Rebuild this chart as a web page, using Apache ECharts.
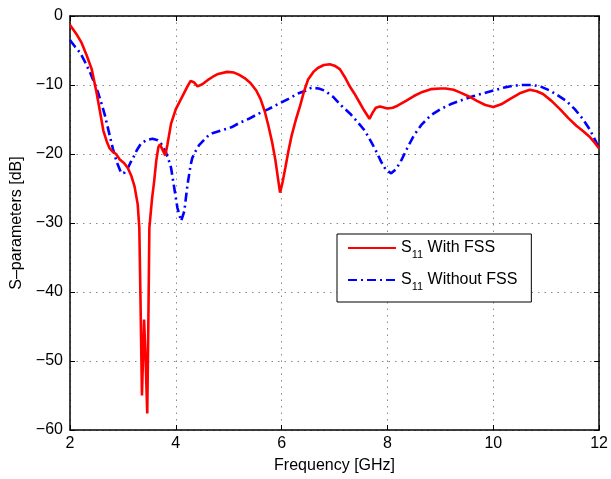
<!DOCTYPE html>
<html>
<head>
<meta charset="utf-8">
<script src="https://cdn.jsdelivr.net/npm/echarts@6/dist/echarts.min.js"></script>
<style>
html,body{margin:0;padding:0;background:#fff;}
#chart{width:611px;height:479px;}
</style>
</head>
<body>
<div id="chart"></div>
<script>
// ---- data ----
var seriesNames = ['S11 With FSS', 'S11 Without FSS'];
var xTicks = [2, 4, 6, 8, 10, 12];
var yTicks = [-60, -50, -40, -30, -20, -10, 0];

var freqWith = [2.0,2.03,2.12,2.22,2.32,2.41,2.50,2.57,2.63,2.70,2.75,2.81,2.87,2.94,3.02,3.09,3.16,3.22,3.28,3.31,3.33,3.36,3.40,3.43,3.46,3.48,3.50,3.55,3.59,3.63,3.67,3.70,3.75,3.80,3.84,3.91,4.0,4.08,4.16,4.22,4.28,4.34,4.41,4.50,4.60,4.70,4.80,4.97,5.10,5.19,5.30,5.41,5.52,5.60,5.68,5.75,5.82,5.88,5.93,5.97,6.02,6.07,6.13,6.19,6.27,6.35,6.42,6.50,6.60,6.69,6.80,6.91,7.00,7.10,7.19,7.28,7.38,7.47,7.56,7.66,7.72,7.78,7.86,8.0,8.10,8.19,8.35,8.50,8.66,8.82,9.0,9.10,9.25,9.38,9.55,9.69,9.85,10.0,10.15,10.32,10.50,10.69,10.82,10.94,11.10,11.26,11.42,11.57,11.70,11.82,11.92,12.0];
var s11With = [-1.3,-1.5,-2.6,-3.9,-5.8,-7.7,-11.0,-14.0,-16.6,-18.3,-19.2,-19.7,-20.0,-20.8,-21.3,-22.0,-23.2,-24.7,-27.3,-30.7,-40,-55,-44,-50,-57.6,-45,-30.7,-26.5,-24.0,-21.0,-19.0,-18.6,-19.4,-20.2,-18.7,-15.6,-13.5,-12.3,-11.1,-10.2,-9.4,-9.6,-10.2,-9.9,-9.3,-8.8,-8.4,-8.1,-8.2,-8.5,-9.0,-9.7,-10.8,-12.0,-13.8,-15.9,-18.3,-20.8,-23.5,-25.6,-24.0,-22.0,-19.5,-17.3,-15.0,-13.0,-11.0,-9.2,-8.1,-7.5,-7.1,-7.0,-7.2,-7.7,-8.8,-10.1,-11.3,-12.5,-13.7,-14.9,-14.0,-13.3,-13.1,-13.4,-13.3,-13.0,-12.3,-11.6,-11.0,-10.6,-10.5,-10.5,-10.7,-11.1,-11.7,-12.3,-12.9,-13.2,-12.8,-12.0,-11.2,-10.7,-10.9,-11.3,-12.3,-13.5,-14.8,-15.9,-16.7,-17.5,-18.4,-19.2];

var freqWithout = [2.0,2.03,2.10,2.19,2.28,2.38,2.46,2.53,2.60,2.66,2.75,2.81,2.88,2.97,3.03,3.09,3.14,3.19,3.26,3.34,3.44,3.56,3.66,3.73,3.81,3.87,3.91,3.97,4.03,4.10,4.16,4.22,4.28,4.31,4.38,4.44,4.59,4.69,4.85,5.06,5.20,5.38,5.55,5.75,5.95,6.13,6.32,6.50,6.56,6.70,6.81,6.97,7.13,7.30,7.44,7.57,7.69,7.80,7.88,7.97,8.07,8.16,8.25,8.37,8.50,8.65,8.82,9.00,9.19,9.40,9.63,9.82,10.0,10.19,10.38,10.55,10.75,10.92,11.07,11.22,11.38,11.54,11.69,11.82,11.94,12.0];
var s11Without = [-3.5,-3.8,-4.5,-5.3,-6.6,-8.2,-9.7,-11.1,-12.8,-14.4,-17.3,-19.2,-21.1,-22.8,-22.7,-22.1,-21.3,-20.6,-19.5,-18.5,-18.0,-17.8,-18.0,-18.6,-19.7,-21.0,-22.0,-24.9,-27.8,-29.7,-28.3,-24.5,-21.6,-20.6,-19.5,-18.7,-17.5,-17.0,-16.6,-16.1,-15.5,-14.9,-14.2,-13.5,-12.7,-12.0,-11.2,-10.7,-10.4,-10.5,-10.8,-11.7,-13.0,-14.2,-15.4,-16.6,-18.2,-19.8,-21.1,-22.3,-22.8,-22.2,-21.1,-19.2,-17.3,-15.7,-14.4,-13.5,-12.8,-12.2,-11.6,-11.2,-10.8,-10.4,-10.1,-10.0,-10.0,-10.3,-10.8,-11.5,-12.3,-13.5,-14.9,-16.4,-18.2,-19.2];

function zip(xs, ys) { return xs.map(function (x, i) { return [x, ys[i]]; }); }
function minusFmt(v) { return String(v).replace('-', '\u2212'); }

var FONT = 'Liberation Sans, Arial, Helvetica, sans-serif';
var chart = echarts.init(document.getElementById('chart'), null, { renderer: 'canvas' });

var frameAxisCommon = {
  axisLine: { show: true, onZero: false, lineStyle: { color: '#000', width: 1.5 } },
  axisTick: { show: true, inside: true, length: 5, lineStyle: { color: '#000', width: 1 } }
};

chart.setOption({
  animation: false,
  backgroundColor: '#fff',
  grid: { left: 70, right: 8, top: 16, bottom: 43, containLabel: false },
  legend: {
    orient: 'vertical',
    left: 337,
    top: 234,
    padding: [6, 14, 10, 10],
    itemGap: 12,
    itemWidth: 48,
    itemHeight: 14,
    borderColor: '#000',
    borderWidth: 1,
    backgroundColor: '#fff',
    data: seriesNames,
    itemStyle: { color: 'rgba(0,0,0,0)', borderWidth: 0, opacity: 0 },
    formatter: function (name) {
      return '{n|S}{s|11}{n|' + name.slice(3) + '}';
    },
    textStyle: {
      fontFamily: FONT,
      color: '#000',
      rich: {
        n: { fontSize: 16, fontFamily: FONT, color: '#000' },
        s: { fontSize: 11, fontFamily: FONT, color: '#000', padding: [13, 0, 0, 0] }
      }
    }
  },
  xAxis: [
    Object.assign({
      type: 'value', min: xTicks[0], max: xTicks[xTicks.length - 1], interval: 2,
      position: 'bottom',
      name: 'Frequency [GHz]', nameLocation: 'middle', nameGap: 28,
      nameTextStyle: { fontFamily: FONT, fontSize: 16, color: '#000' },
      axisLabel: { fontFamily: FONT, fontSize: 16, color: '#000', margin: 6, formatter: minusFmt },
      splitLine: { show: true, lineStyle: { color: '#8a8a8a', type: [1.5, 5], width: 1 } }
    }, frameAxisCommon),
    Object.assign({
      type: 'value', min: xTicks[0], max: xTicks[xTicks.length - 1], interval: 2,
      position: 'top', axisLabel: { show: false }, splitLine: { show: false }
    }, frameAxisCommon)
  ],
  yAxis: [
    Object.assign({
      type: 'value', min: yTicks[0], max: yTicks[yTicks.length - 1], interval: 10,
      position: 'left',
      name: 'S\u2013parameters [dB]', nameLocation: 'middle', nameGap: 39,
      nameTextStyle: { fontFamily: FONT, fontSize: 16, color: '#000' },
      axisLabel: { fontFamily: FONT, fontSize: 16, color: '#000', margin: 7, formatter: minusFmt },
      splitLine: { show: true, lineStyle: { color: '#8a8a8a', type: [1.5, 5], width: 1 } }
    }, frameAxisCommon),
    Object.assign({
      type: 'value', min: yTicks[0], max: yTicks[yTicks.length - 1], interval: 10,
      position: 'right', axisLabel: { show: false }, splitLine: { show: false }
    }, frameAxisCommon)
  ],
  series: [
    {
      name: seriesNames[0], type: 'line', xAxisIndex: 0, yAxisIndex: 0,
      data: zip(freqWith, s11With),
      symbol: 'none', smooth: false,
      lineStyle: { color: '#ff0000', width: 2.6, type: 'solid' },
      itemStyle: { color: '#ff0000' },
      z: 3
    },
    {
      name: seriesNames[1], type: 'line', xAxisIndex: 0, yAxisIndex: 0,
      data: zip(freqWithout, s11Without),
      symbol: 'none', smooth: false,
      lineStyle: { color: '#0000ff', width: 2.6, type: [9, 4, 2, 4] },
      itemStyle: { color: '#0000ff' },
      z: 2
    }
  ]
});
</script>
</body>
</html>
